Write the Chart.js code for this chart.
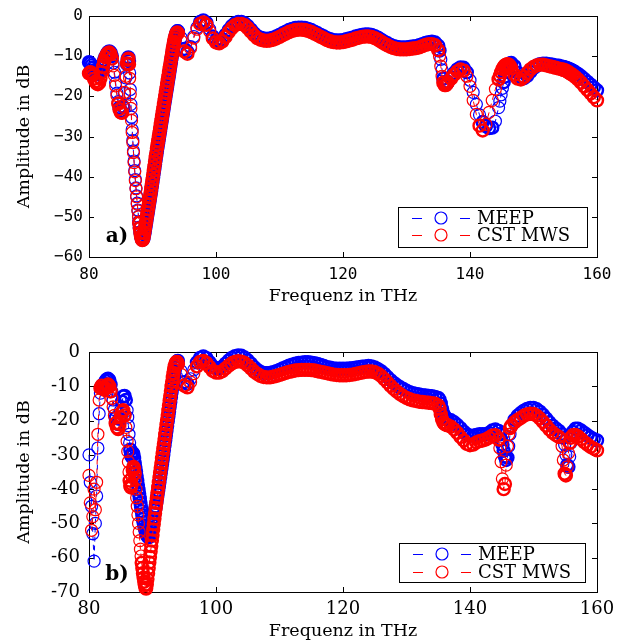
<!DOCTYPE html>
<html><head><meta charset="utf-8">
<script src="https://cdn.jsdelivr.net/npm/chart.js@4.4.1/dist/chart.umd.min.js"></script>
<style>
html,body{margin:0;padding:0;background:#fff;}
#wrap{position:relative;width:627px;height:644px;overflow:hidden;}
canvas{position:absolute;left:0;}
#ca{top:0;} #cb{top:322px;}
</style></head><body>
<div id="wrap"><canvas id="ca" width="627" height="322"></canvas><canvas id="cb" width="627" height="322"></canvas></div>
<script>
// Frequencies (THz), shared by all four series
const freq = [
80.0,80.2,80.4,80.6,80.8,81.0,81.2,81.4,81.6,81.8,82.0,82.2,82.4,82.6,82.8,83.0,83.2,83.4,83.6,83.8,84.0,84.2,84.4,84.6,84.8,85.0,85.2,85.4,85.6,85.8,86.0,
86.1,86.2,86.3,86.4,86.5,86.6,86.7,86.8,86.9,87.0,
87.1,87.2,87.3,87.4,87.5,87.6,87.7,87.8,87.9,88.0,
88.1,88.2,88.3,88.4,88.5,88.6,88.7,88.8,88.9,89.0,
89.1,89.2,89.3,89.4,89.5,89.6,89.7,89.8,89.9,90.0,
90.1,90.2,90.3,90.4,90.5,90.6,90.7,90.8,90.9,91.0,
91.1,91.2,91.3,91.4,91.5,91.6,91.7,91.8,91.9,92.0,
92.1,92.2,92.3,92.4,92.5,92.6,92.7,92.8,92.9,93.0,
93.1,93.2,93.3,93.4,93.5,93.6,93.7,93.8,93.9,94.0,
94.5,95.0,95.5,96.0,96.5,97.0,97.5,98.0,98.5,99.0,
99.5,100.0,100.5,101.0,101.5,102.0,102.5,103.0,103.5,104.0,
104.5,105.0,105.5,106.0,106.5,107.0,107.5,108.0,108.5,109.0,
109.5,110.0,110.5,111.0,111.5,112.0,112.5,113.0,113.5,114.0,
114.5,115.0,115.5,116.0,116.5,117.0,117.5,118.0,118.5,119.0,
119.5,120.0,120.5,121.0,121.5,122.0,122.5,123.0,123.5,124.0,
124.5,125.0,125.5,126.0,126.5,127.0,127.5,128.0,128.5,129.0,
129.5,130.0,130.5,131.0,131.5,132.0,132.5,133.0,133.5,134.0,
134.5,135.0,
135.2,135.4,135.6,135.8,136.0,136.2,136.4,
136.5,137.0,137.5,138.0,138.5,139.0,139.5,140.0,140.5,141.0,141.5,142.0,142.5,143.0,143.5,144.0,144.5,
144.7,144.9,145.1,145.3,145.5,145.7,145.9,146.1,146.3,
146.5,147.0,147.5,148.0,148.5,149.0,149.5,150.0,150.5,151.0,151.5,152.0,152.5,153.0,153.5,154.0,154.5,
154.7,154.9,155.1,155.3,155.5,155.7,155.9,
156.2,156.6,157.0,157.5,158.0,158.5,159.0,159.5,160.0
];

// Panel a) — MEEP (blue)
const meepA = [
-11.5,-11.8,-12.3,-12.9,-13.5,-14.0,-14.4,-14.5,-14.3,-13.7,-12.8,-11.8,-10.9,-10.1,-9.5,-9.0,-8.8,-9.1,-10.0,-11.7,-14.0,-16.7,-19.2,-21.3,-22.8,-23.7,-23.9,-22.6,-19.3,-15.4,-12.0,
-10.8,-10.3,-11.2,-14.2,-18.3,-22.0,-25.2,-28.3,-31.0,-33.6,
-36.1,-38.5,-40.7,-42.8,-44.8,-46.6,-48.3,-49.9,-51.4,-52.7,
-53.9,-54.8,-55.4,-55.7,-55.6,-55.2,-54.4,-53.5,-52.5,-51.5,
-50.5,-49.5,-48.5,-47.5,-46.5,-45.5,-44.5,-43.5,-42.4,-41.3,
-40.2,-39.1,-38.0,-36.9,-35.8,-34.7,-33.6,-32.6,-31.6,-30.6,
-29.6,-28.6,-27.6,-26.6,-25.6,-24.6,-23.6,-22.6,-21.6,-20.6,
-19.6,-18.6,-17.6,-16.6,-15.6,-14.6,-13.6,-12.6,-11.6,-10.6,
-9.6,-8.6,-7.7,-6.8,-6.0,-5.2,-4.6,-4.1,-3.8,-3.8,
-5.4,-8.2,-8.9,-7.6,-5.1,-2.9,-1.5,-1.1,-1.7,-3.3,
-5.1,-6.1,-6.3,-5.8,-4.7,-3.5,-2.5,-1.8,-1.5,-1.5,
-1.8,-2.5,-3.4,-4.3,-5.0,-5.4,-5.6,-5.7,-5.6,-5.4,
-5.1,-4.7,-4.3,-3.9,-3.5,-3.2,-3.0,-2.9,-2.9,-3.0,
-3.2,-3.5,-3.9,-4.3,-4.7,-5.1,-5.5,-5.8,-6.0,-6.1,
-6.1,-6.0,-5.8,-5.6,-5.4,-5.1,-4.9,-4.7,-4.6,-4.6,
-4.7,-5.0,-5.4,-5.9,-6.4,-6.8,-7.2,-7.5,-7.7,-7.8,
-7.8,-7.8,-7.7,-7.6,-7.5,-7.3,-7.0,-6.7,-6.5,-6.4,
-6.6,-7.4,
-8.6,-10.8,-13.4,-15.6,-16.7,-17.0,-16.7,
-16.4,-15.3,-14.2,-13.3,-12.8,-12.9,-14.0,-16.0,-19.0,-22.0,-24.6,-26.4,-27.4,-27.9,-27.8,-26.2,-22.8,
-21.2,-19.6,-18.0,-16.5,-15.1,-13.9,-12.9,-12.2,-11.8,
-11.7,-12.5,-14.1,-15.2,-15.5,-14.9,-13.9,-13.0,-12.4,-12.0,-11.9,-11.9,-12.0,-12.1,-12.3,-12.4,-12.6,
-12.7,-12.8,-12.9,-13.0,-13.1,-13.3,-13.4,
-13.6,-14.0,-14.4,-15.0,-15.7,-16.4,-17.1,-17.8,-18.5
];

// Panel a) — CST MWS (red)
const cstA = [
-14.3,-14.0,-14.2,-14.8,-15.6,-16.3,-16.8,-17.0,-16.6,-15.5,-14.0,-12.6,-11.3,-10.3,-9.6,-9.2,-9.1,-9.5,-10.6,-12.4,-14.8,-17.4,-19.8,-21.8,-23.2,-24.0,-24.1,-22.5,-19.0,-15.0,-11.8,
-10.9,-10.6,-12.0,-15.5,-19.5,-23.0,-26.0,-29.0,-31.5,-34.0,
-36.5,-38.8,-41.0,-43.0,-45.0,-46.8,-48.5,-50.0,-51.5,-52.8,
-54.0,-54.9,-55.5,-55.8,-55.6,-55.0,-54.0,-53.0,-52.0,-51.0,
-50.0,-49.0,-48.0,-47.0,-46.0,-45.0,-44.0,-42.9,-41.8,-40.7,
-39.6,-38.5,-37.4,-36.3,-35.2,-34.1,-33.0,-32.0,-31.0,-30.0,
-29.0,-28.0,-27.0,-26.0,-25.0,-24.0,-23.0,-22.0,-21.0,-20.0,
-19.0,-18.0,-17.0,-16.0,-15.0,-14.0,-13.0,-12.0,-11.0,-10.0,
-9.0,-8.1,-7.2,-6.4,-5.6,-5.0,-4.5,-4.2,-4.1,-4.3,
-6.2,-8.8,-9.4,-8.0,-5.5,-3.3,-2.0,-1.6,-2.2,-3.8,
-5.6,-6.6,-6.8,-6.3,-5.2,-4.0,-3.0,-2.3,-2.0,-2.0,
-2.3,-3.0,-3.9,-4.8,-5.5,-5.9,-6.1,-6.2,-6.1,-5.9,
-5.6,-5.2,-4.8,-4.4,-4.0,-3.7,-3.5,-3.4,-3.4,-3.5,
-3.7,-4.0,-4.4,-4.8,-5.2,-5.6,-6.0,-6.3,-6.5,-6.6,
-6.6,-6.5,-6.3,-6.1,-5.9,-5.6,-5.4,-5.2,-5.1,-5.1,
-5.2,-5.5,-5.9,-6.4,-6.9,-7.3,-7.7,-8.0,-8.2,-8.3,
-8.3,-8.3,-8.2,-8.1,-8.0,-7.8,-7.5,-7.2,-7.0,-7.0,
-7.3,-8.5,
-10.0,-12.5,-15.0,-16.6,-17.2,-17.2,-16.8,
-16.5,-15.6,-14.6,-13.8,-13.3,-13.6,-15.0,-17.5,-21.0,-24.5,-27.3,-28.5,-27.0,-24.0,-21.0,-18.2,-15.8,
-14.9,-14.0,-13.2,-12.7,-12.3,-12.1,-12.0,-12.1,-12.5,
-13.0,-14.6,-15.6,-15.8,-15.2,-14.2,-13.3,-12.7,-12.3,-12.1,-12.1,-12.3,-12.5,-12.7,-12.9,-13.1,-13.3,
-13.4,-13.5,-13.6,-13.8,-14.0,-14.2,-14.4,
-14.7,-15.2,-15.8,-16.6,-17.5,-18.4,-19.3,-20.2,-21.0
];

// Panel b) — MEEP (blue)
const meepB = [
-30,-38,-45,-53,-61,-50,-42,-28,-18,-12,-10,-9.5,-9.2,-8.5,-8.0,-7.8,-8.2,-9.5,-11.5,-14.0,-16.8,-19.2,-20.8,-21.0,-19.5,-17.0,-14.5,-13.0,-12.8,-14.0,-17.0,
-19.0,-21.5,-24.0,-26.5,-28.5,-30.0,-30.5,-30.0,-29.5,-29.8,
-31.0,-32.3,-33.6,-34.9,-36.2,-37.5,-38.8,-40.1,-41.4,-42.7,
-44.0,-45.2,-46.4,-47.6,-48.7,-49.7,-50.6,-51.4,-52.1,-52.7,
-53.2,-53.6,-53.9,-54.0,-53.9,-53.5,-52.9,-52.1,-51.3,-50.4,
-49.4,-48.4,-47.3,-46.2,-45.1,-44.0,-42.8,-41.6,-40.4,-39.2,
-37.9,-36.6,-35.3,-34.0,-32.7,-31.4,-30.0,-28.6,-27.2,-25.8,
-24.4,-23.0,-21.6,-20.2,-18.8,-17.4,-16.0,-14.6,-13.2,-11.8,
-10.4,-9.1,-7.8,-6.6,-5.5,-4.5,-3.7,-3.1,-2.7,-2.6,
-5.5,-8.8,-9.3,-7.8,-5.2,-3.0,-1.7,-1.3,-1.8,-3.0,
-4.2,-4.8,-4.8,-4.3,-3.4,-2.5,-1.7,-1.2,-1.0,-1.1,
-1.6,-2.4,-3.4,-4.4,-5.2,-5.8,-6.1,-6.2,-6.1,-5.9,
-5.6,-5.2,-4.8,-4.4,-4.0,-3.7,-3.4,-3.2,-3.1,-3.0,
-3.0,-3.1,-3.3,-3.5,-3.8,-4.1,-4.4,-4.6,-4.8,-4.9,
-4.9,-4.9,-4.9,-4.8,-4.7,-4.6,-4.4,-4.3,-4.2,-4.1,
-4.2,-4.5,-5.0,-5.6,-6.4,-7.3,-8.2,-9.0,-9.7,-10.3,
-10.8,-11.3,-11.7,-12.0,-12.2,-12.4,-12.6,-12.7,-12.8,-12.9,
-13.1,-13.4,
-13.9,-15.0,-16.6,-18.0,-18.9,-19.3,-19.5,
-19.6,-19.9,-20.5,-21.3,-22.2,-23.2,-24.0,-24.4,-24.4,-24.2,-24.0,-24.0,-24.0,-23.6,-22.9,-22.6,-23.0,
-24.0,-25.5,-27.0,-28.8,-30.5,-31.5,-30.8,-27.5,-24.0,
-21.8,-19.8,-18.6,-17.8,-17.1,-16.6,-16.3,-16.3,-16.7,-17.4,-18.3,-19.4,-20.5,-21.5,-22.3,-23.0,-24.0,
-25.0,-27.0,-30.0,-33.0,-33.5,-30.5,-26.5,
-23.3,-22.4,-22.4,-22.9,-23.6,-24.3,-24.9,-25.4,-25.8
];

// Panel b) — CST MWS (red)
const cstB = [
-36,-44,-52,-48,-40,-46,-38,-24,-14,-10.5,-9.8,-10.5,-11.0,-10.5,-9.8,-9.5,-10.0,-11.5,-13.5,-16.0,-18.5,-20.8,-22.0,-22.5,-21.0,-19.0,-17.5,-17.0,-18.5,-22.0,-26.0,
-29.0,-32.0,-35.0,-37.5,-39.0,-39.5,-38.5,-36.5,-34.5,-33.5,
-34.0,-35.5,-37.5,-40.0,-42.5,-45.0,-47.5,-50.0,-52.5,-55.0,
-57.5,-59.5,-61.5,-63.0,-64.5,-65.8,-67.0,-68.0,-68.8,-69.0,
-67.8,-66.2,-64.6,-63.0,-61.4,-59.8,-58.2,-56.6,-55.0,-53.4,
-51.8,-50.2,-48.6,-47.0,-45.5,-44.0,-42.5,-41.0,-39.5,-38.0,
-36.6,-35.2,-33.8,-32.4,-31.0,-29.6,-28.2,-26.8,-25.4,-24.0,
-22.6,-21.2,-19.8,-18.4,-17.0,-15.6,-14.2,-12.8,-11.4,-10.0,
-8.7,-7.4,-6.2,-5.1,-4.2,-3.5,-3.1,-2.9,-3.0,-3.5,
-6.5,-9.8,-10.3,-8.8,-6.3,-4.2,-2.9,-2.6,-3.2,-4.4,
-5.5,-6.0,-6.0,-5.6,-4.8,-4.0,-3.3,-2.9,-2.7,-2.8,
-3.2,-3.9,-4.8,-5.7,-6.4,-7.0,-7.3,-7.4,-7.4,-7.2,
-7.0,-6.7,-6.4,-6.1,-5.8,-5.6,-5.4,-5.3,-5.2,-5.2,
-5.2,-5.3,-5.4,-5.6,-5.8,-6.0,-6.2,-6.4,-6.6,-6.7,
-6.8,-6.8,-6.8,-6.7,-6.6,-6.4,-6.2,-6.0,-5.8,-5.7,
-5.7,-5.9,-6.3,-7.0,-7.9,-8.9,-9.9,-10.8,-11.6,-12.3,
-12.9,-13.4,-13.8,-14.1,-14.3,-14.5,-14.6,-14.7,-14.8,-14.9,
-15.1,-15.6,
-16.5,-18.2,-19.6,-20.5,-21.0,-21.2,-21.3,
-21.4,-21.8,-22.6,-23.6,-24.8,-25.8,-26.8,-27.2,-27.0,-26.4,-26.0,-25.8,-25.5,-25.0,-24.4,-24.3,-25.5,
-28.0,-32.0,-37.0,-40.0,-38.5,-33.0,-27.5,-24.0,-22.2,
-21.5,-20.5,-19.8,-19.2,-18.6,-18.2,-18.0,-18.1,-18.6,-19.4,-20.4,-21.5,-22.6,-23.5,-24.2,-24.8,-27.5,
-31.5,-35.5,-36.0,-33.5,-29.5,-26.5,-25.0,
-24.3,-24.2,-24.6,-25.4,-26.3,-27.0,-27.7,-28.2,-28.7
];

const seriesNames = ['MEEP', 'CST MWS'];
const xTicks = [80, 100, 120, 140, 160];
const yTicksA = [0, -10, -20, -30, -40, -50, -60];
const yTicksB = [0, -10, -20, -30, -40, -50, -60, -70];
const panelLabels = ['a)', 'b)'];

[meepA, cstA, meepB, cstB].forEach((s, i) => {
  if (s.length !== freq.length) throw new Error('series ' + i + ' has ' + s.length + ' values, freq has ' + freq.length);
});

const BLUE = '#0000ff', RED = '#ff0000';
const SERIF = "'DejaVu Serif', serif";
const MONO = "'DejaVu Sans Mono', monospace";

function toXY(vals) { return freq.map((f, i) => ({ x: f, y: vals[i] })); }

// ring stroke: heavier where neighbouring markers sit close together (dense band look)
function ringWidth(ctx) {
  const ch = ctx.chart, i = ctx.dataIndex, d = ctx.dataset.data;
  if (!ch.scales || !ch.scales.x || !d[i]) return 1.2;
  const sx = ch.scales.x, sy = ch.scales.y;
  const px = p => [sx.getPixelForValue(p.x), sy.getPixelForValue(p.y)];
  let best = Infinity;
  [i - 1, i + 1].forEach(j => {
    if (j >= 0 && j < d.length) {
      const a = px(d[i]), b = px(d[j]);
      best = Math.min(best, Math.hypot(a[0] - b[0], a[1] - b[1]));
    }
  });
  return best < 6 ? 2.4 : 1.2;
}

function makeDataset(label, vals, color, order) {
  return {
    label, data: toXY(vals), order,
    borderColor: color, backgroundColor: 'rgba(0,0,0,0)',
    borderWidth: 1, borderDash: [5, 4], showLine: true, tension: 0,
    pointStyle: 'circle', pointRadius: 6, pointBorderWidth: ringWidth,
    pointBorderColor: color, pointBackgroundColor: 'rgba(0,0,0,0)',
    clip: false
  };
}

const framePlugin = {
  id: 'frame',
  beforeDatasetsDraw(chart) {
    const { ctx, chartArea: a, scales } = chart;
    ctx.save();
    ctx.strokeStyle = '#000'; ctx.lineWidth = 1;
    ctx.strokeRect(Math.round(a.left) + 0.5, Math.round(a.top) + 0.5, Math.round(a.right - a.left), Math.round(a.bottom - a.top));
    const tl = 5;
    ctx.beginPath();
    scales.x.ticks.forEach(t => {
      const px = Math.round(scales.x.getPixelForValue(t.value)) + 0.5;
      ctx.moveTo(px, a.bottom); ctx.lineTo(px, a.bottom - tl);
      ctx.moveTo(px, a.top); ctx.lineTo(px, a.top + tl);
    });
    scales.y.ticks.forEach(t => {
      const py = Math.round(scales.y.getPixelForValue(t.value)) + 0.5;
      ctx.moveTo(a.left, py); ctx.lineTo(a.left + tl, py);
      ctx.moveTo(a.right, py); ctx.lineTo(a.right - tl, py);
    });
    ctx.stroke();
    ctx.restore();
  }
};

const legendPlugin = {
  id: 'boxLegend',
  afterDatasetsDraw(chart, args, opts) {
    const { ctx, chartArea: a } = chart;
    const w = opts.width, h = opts.height;
    const left = Math.round(a.right - opts.right - w), top = Math.round(a.bottom - opts.bottom - h);
    ctx.save();
    ctx.fillStyle = '#fff';
    ctx.fillRect(left, top, w, h);
    ctx.strokeStyle = '#000'; ctx.lineWidth = 1;
    ctx.strokeRect(left + 0.5, top + 0.5, w, h);
    const dsList = [chart.data.datasets[0], chart.data.datasets[1]];
    dsList.forEach((ds, i) => {
      const cy = top + opts.rows[i];
      ctx.strokeStyle = ds.borderColor; ctx.lineWidth = 1;
      ctx.beginPath();
      ctx.moveTo(left + 14, Math.round(cy) + 0.5); ctx.lineTo(left + 24, Math.round(cy) + 0.5);
      ctx.moveTo(left + 62, Math.round(cy) + 0.5); ctx.lineTo(left + 72, Math.round(cy) + 0.5);
      ctx.stroke();
      ctx.lineWidth = 1.2;
      ctx.beginPath(); ctx.arc(left + 43, cy, 6, 0, Math.PI * 2); ctx.stroke();
      ctx.fillStyle = '#000';
      ctx.font = '18px ' + SERIF;
      ctx.textBaseline = 'middle'; ctx.textAlign = 'left';
      ctx.fillText(ds.label, left + 79, cy + 1);
    });
    ctx.restore();
  }
};

const panelLabelPlugin = {
  id: 'panelLabel',
  afterDatasetsDraw(chart, args, opts) {
    const { ctx, scales } = chart;
    ctx.save();
    ctx.fillStyle = '#000';
    ctx.font = 'bold 20px ' + SERIF;
    ctx.textAlign = 'center'; ctx.textBaseline = 'middle';
    ctx.fillText(opts.text, scales.x.getPixelForValue(opts.x), scales.y.getPixelForValue(opts.y));
    ctx.restore();
  }
};

function makeChart(id, meep, cst, yTicks, yMin, cfg) {
  return new Chart(document.getElementById(id), {
    type: 'scatter',
    data: { datasets: [makeDataset(seriesNames[0], meep, BLUE, 1), makeDataset(seriesNames[1], cst, RED, 0)] },
    options: {
      responsive: false, animation: false, devicePixelRatio: 1, events: [],
      layout: { padding: { top: cfg.padTop, right: 30, left: 0, bottom: 0 } },
      plugins: {
        legend: { display: false }, tooltip: { enabled: false },
        boxLegend: cfg.legend,
        panelLabel: cfg.label
      },
      scales: {
        x: {
          type: 'linear', min: 80, max: 160,
          afterBuildTicks: s => { s.ticks = xTicks.map(v => ({ value: v })); },
          afterFit: s => { s.height = cfg.xHeight; },
          grid: { display: false, drawTicks: false }, border: { display: false },
          ticks: { font: cfg.tickFont, color: '#000', padding: cfg.xPad, maxRotation: 0, autoSkip: false,
                   callback: v => String(v) },
          title: { display: true, text: 'Frequenz in THz', color: '#000',
                   font: { family: SERIF, size: 17.5 }, padding: { top: 0, bottom: cfg.xTitlePad } }
        },
        y: {
          type: 'linear', min: yMin, max: 0,
          afterBuildTicks: s => { s.ticks = yTicks.map(v => ({ value: v })); },
          afterFit: s => { s.width = 89; },
          grid: { display: false, drawTicks: false }, border: { display: false },
          ticks: { font: cfg.tickFont, color: '#000', padding: cfg.yPad, callback: cfg.yFmt },
          title: { display: true, text: 'Amplitude in dB', color: '#000',
                   font: { family: SERIF, size: 17.5 }, padding: { top: 14, bottom: 0 } }
        }
      }
    },
    plugins: [framePlugin, legendPlugin, panelLabelPlugin]
  });
}

makeChart('ca', meepA, cstA, yTicksA, -60, {
  padTop: 16, xHeight: 65, xPad: 8, xTitlePad: 15, yPad: 6,
  tickFont: { family: MONO, size: 16 },
  yFmt: v => (v < 0 ? '\u2212' + (-v) : String(v)),
  legend: { width: 189, height: 40, right: 10, bottom: 10, rows: [11, 28] },
  label: { text: panelLabels[0], x: 84.4, y: -55 }
});

makeChart('cb', meepB, cstB, yTicksB, -70, {
  padTop: 30, xHeight: 52, xPad: 7, xTitlePad: 2, yPad: 9,
  tickFont: { family: SERIF, size: 18 },
  yFmt: v => String(v),
  legend: { width: 186, height: 39, right: 12, bottom: 10, rows: [11, 29] },
  label: { text: panelLabels[1], x: 84.4, y: -65 }
});
</script>
</body></html>
